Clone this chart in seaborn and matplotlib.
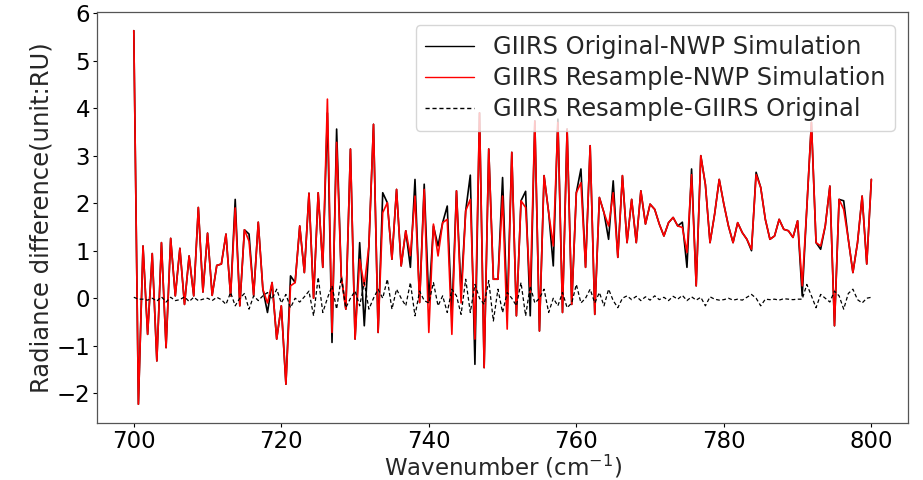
import numpy as np
import pandas as pd
import matplotlib
matplotlib.use("Agg")
import matplotlib.pyplot as plt
import seaborn as sns

# Wavenumber grid (cm^-1): 700 to 800 at 0.625 spacing
wavenumber = np.round(np.arange(700, 800.0001, 0.625), 4)

orig_minus_nwp = [
    5.63, -2.23, 1.10, -0.76, 0.94, -1.32, 1.17, -1.04, 1.26, 0.05,
    1.05, -0.13, 0.89, 0.05, 1.91, 0.13, 1.37, 0.06, 0.69, 0.72,
    1.35, 0.05, 2.08, -0.16, 1.44, 1.35, 0.06, 1.60, 0.19, -0.30,
    0.33, -0.86, -0.16, -1.81, 0.47, 0.33, 1.52, 0.54, 2.21, 0.00,
    2.22, 0.65, 3.90, -0.93, 3.56, 0.47, -0.23, 3.14, -0.86, 1.17,
    -0.58, 1.10, 3.66, -0.72, 2.22, 2.01, 0.82, 2.29, 0.68, 1.42,
    0.65, 2.50, -0.09, 2.40, -0.09, 1.52, 1.10, 1.59, 1.94, -0.40,
    2.26, 0.12, 1.84, 2.59, -1.39, 3.90, -1.46, 3.14, 0.40, 0.40,
    2.54, -0.30, 3.07, -0.37, 2.05, 2.25, -0.37, 3.73, -0.69, 2.58,
    1.80, 0.68, 3.77, -0.30, 3.56, -0.13, 2.22, 2.72, 0.65, 3.21,
    -0.34, 2.12, 1.80, 1.24, 2.47, 0.86, 2.58, 1.17, 2.08, 1.17,
    2.26, 1.56, 1.98, 1.87, 1.56, 1.31, 1.59, 1.70, 1.52, 1.60,
    0.65, 2.72, 0.26, 3.00, 2.39, 1.17, 1.77, 2.50, 1.98, 1.52,
    1.17, 1.59, 1.38, 1.24, 1.00, 2.65, 2.33, 1.66, 1.24, 1.31,
    1.66, 1.45, 1.42, 1.28, 1.63, 0.05, 1.90, 3.70, 1.17, 1.03,
    1.52, 2.36, -0.58, 2.08, 2.05, 1.24, 0.54, 1.17, 2.15, 0.72,
    2.50,
]

resample_minus_nwp = [
    5.63, -2.23, 1.10, -0.76, 0.94, -1.32, 1.17, -1.04, 1.26, 0.05,
    1.05, -0.13, 0.89, 0.05, 1.91, 0.13, 1.37, 0.06, 0.69, 0.72,
    1.35, 0.05, 1.90, -0.16, 1.44, 1.20, 0.06, 1.60, 0.19, -0.10,
    0.33, -0.86, -0.16, -1.81, 0.26, 0.33, 1.52, 0.54, 2.21, 0.00,
    2.22, 0.65, 4.19, -0.72, 3.28, 0.47, -0.23, 3.14, -0.86, 0.82,
    0.26, 1.10, 3.66, -0.72, 1.80, 2.01, 0.82, 2.29, 0.68, 1.42,
    0.90, 2.15, -0.09, 2.29, -0.72, 1.56, 0.89, 1.59, 1.66, -0.76,
    2.26, -0.10, 1.84, 2.08, -0.86, 3.90, -1.46, 3.14, 0.40, 0.40,
    2.15, -0.65, 3.07, -0.37, 2.05, 1.91, 0.12, 3.73, -0.69, 2.58,
    1.80, 1.10, 3.70, -0.30, 3.56, -0.13, 2.22, 2.43, 0.65, 3.21,
    -0.34, 2.12, 1.80, 1.52, 2.22, 0.86, 2.58, 1.17, 2.08, 1.17,
    2.26, 1.56, 1.98, 1.87, 1.56, 1.31, 1.59, 1.70, 1.52, 1.49,
    0.96, 2.60, 0.26, 3.00, 2.39, 1.17, 1.77, 2.50, 1.98, 1.52,
    1.17, 1.59, 1.38, 1.24, 1.03, 2.60, 2.33, 1.66, 1.24, 1.31,
    1.66, 1.45, 1.42, 1.28, 1.63, 0.26, 1.90, 3.70, 1.17, 1.10,
    1.52, 2.36, -0.58, 2.08, 1.87, 1.24, 0.54, 1.17, 2.15, 0.72,
    2.50,
]

resample_minus_orig = [
    0.02, -0.02, -0.02, -0.04, 0.00, -0.06, 0.03, -0.08, 0.02, -0.05,
    -0.03, 0.03, -0.07, 0.02, -0.05, -0.02, 0.00, -0.05, 0.02, -0.03,
    -0.13, 0.12, -0.16, 0.00, 0.10, -0.23, 0.05, -0.05, 0.05, 0.12,
    -0.02, 0.19, -0.10, 0.08, -0.20, 0.00, -0.08, 0.03, 0.15, -0.37,
    0.44, -0.30, 0.00, 0.26, -0.23, 0.44, -0.20, 0.00, 0.15, -0.16,
    0.33, -0.23, 0.00, 0.19, 0.00, 0.40, -0.23, 0.19, 0.00, -0.16,
    0.33, -0.37, 0.15, -0.05, -0.10, 0.33, -0.16, 0.05, -0.30, 0.19,
    0.05, -0.34, 0.40, -0.30, 0.29, 0.00, -0.13, 0.37, -0.48, 0.19,
    -0.30, 0.12, 0.00, -0.16, 0.33, -0.37, 0.26, -0.10, 0.00, 0.19,
    -0.30, 0.00, -0.16, 0.12, -0.20, -0.10, 0.29, -0.10, 0.00, 0.19,
    -0.10, 0.12, -0.16, 0.19, -0.05, -0.20, 0.00, 0.05, -0.03, 0.04,
    -0.05, 0.03, -0.04, 0.05, -0.03, 0.02, -0.05, 0.04, -0.02, 0.06,
    -0.05, 0.03, -0.04, 0.02, -0.16, 0.03, -0.02, -0.04, -0.03, 0.00,
    -0.04, -0.02, -0.04, 0.02, 0.08, 0.00, -0.16, -0.02, -0.03, -0.02,
    -0.04, -0.01, -0.02, -0.03, -0.02, -0.02, 0.29, 0.05, -0.20, 0.08,
    0.00, -0.08, 0.15, 0.05, -0.23, 0.10, 0.19, -0.03, -0.10, 0.00,
    0.02,
]

series_labels = [
    "GIIRS Original-NWP Simulation",
    "GIIRS Resample-NWP Simulation",
    "GIIRS Resample-GIIRS Original",
]
x_label = "Wavenumber (cm$^{-1}$)"
y_label = "Radiance difference(unit:RU)"
x_ticks = [700, 720, 740, 760, 780, 800]
y_ticks = [-2, -1, 0, 1, 2, 3, 4, 5, 6]

sns.set_theme(style="white")
plt.rcParams["font.family"] = ["DejaVu Sans"]

fig = plt.figure(figsize=(9.23, 4.80), dpi=100)
ax = fig.add_axes([0.105, 0.119, 0.879, 0.856])

df = pd.DataFrame({
    "wn": wavenumber,
    "a": orig_minus_nwp,
    "b": resample_minus_nwp,
    "c": resample_minus_orig,
})

sns.lineplot(data=df, x="wn", y="a", color="black", linewidth=1.2,
             label=series_labels[0], ax=ax)
sns.lineplot(data=df, x="wn", y="b", color="red", linewidth=1.2,
             label=series_labels[1], ax=ax)
sns.lineplot(data=df, x="wn", y="c", color="black", linewidth=0.9,
             linestyle=(0, (3, 2)), label=series_labels[2], ax=ax)

ax.set_xticks(x_ticks)
ax.set_yticks(y_ticks)
ax.set_xlabel(x_label, fontsize=16.5, labelpad=0)
ax.set_ylabel(y_label, fontsize=17.5, labelpad=2)
ax.tick_params(axis="both", labelsize=16.5, length=3, width=0.8, pad=2,
               direction="out", bottom=True, left=True, colors="black")
for s in ax.spines.values():
    s.set_color("#555555")
    s.set_linewidth(0.9)

leg = ax.legend(loc="upper right", fontsize=17.4, framealpha=0.8,
                handlelength=2.0, handletextpad=0.8, borderpad=0.4,
                labelspacing=0.3, borderaxespad=0.55)
for line in leg.get_lines():
    line.set_linewidth(1.0)

fig.savefig("out.png", dpi=100)
